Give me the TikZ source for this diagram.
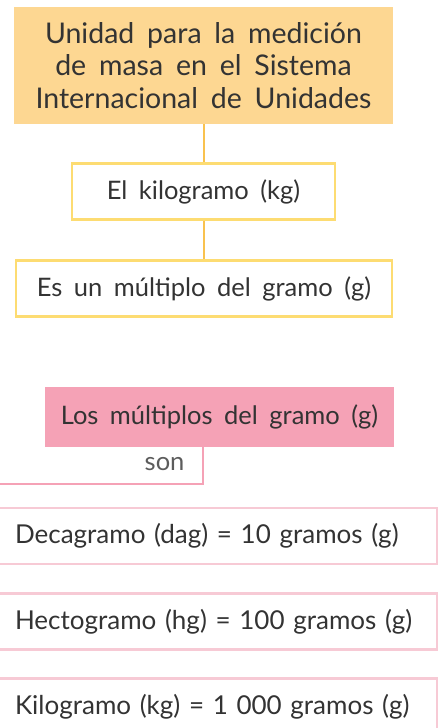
\documentclass[tikz,border=0pt]{standalone}
\usepackage{fontspec}
\setmainfont{Lato}
\usetikzlibrary{positioning}
\definecolor{titlefill}{HTML}{FDD792}
\definecolor{yellowline}{HTML}{FDDC72}
\definecolor{orangeline}{HTML}{F9C24F}
\definecolor{pinkfill}{HTML}{F5A2B6}
\definecolor{pinkline}{HTML}{F7CAD5}
\definecolor{inkgray}{HTML}{333333}
\newcommand{\wide}{\spaceskip=0.45em plus 0.1em minus 0.05em\relax}
\newcommand{\wider}{\spaceskip=0.48em plus 0.05em minus 0.1em\relax}

\begin{document}
\begin{tikzpicture}[x=1pt, y=-1pt,
  every node/.style={text=inkgray, font=\fontsize{25.5}{32}\selectfont\wide},
  titlebox/.style={fill=titlefill, minimum width=379pt, minimum height=117pt, align=center, font=\fontsize{28.5}{32.5}\selectfont\wide},
  yellowbox/.style={draw=yellowline, line width=2.5pt, minimum height=56pt},
  pinkbox/.style={fill=pinkfill, minimum width=349pt, minimum height=60pt},
  rowbox/.style={draw=pinkline, line width=2.5pt, minimum height=56pt, text width=405pt, inner xsep=17pt, align=left, font=\fontsize{26}{32}\selectfont\wider},
  link/.style={draw=orangeline, line width=2pt}]
  \useasboundingbox (0,0) rectangle (442,728);

  % Title
  \node[titlebox] (unidad) at (203.5,65.5) {Unidad para la medición\\de masa en el Sistema\\Internacional de Unidades};

  % Kilogram boxes
  \node[yellowbox, minimum width=263pt] (kilo) at (203.5,191.5) {El kilogramo (kg)};
  \node[yellowbox, minimum width=376pt] (multiplo) at (204,288.5) {Es un múltiplo del gramo (g)};
  \draw[link] (unidad.south -| kilo.north) -- (kilo.north);
  \draw[link] (kilo.south) -- (kilo.south |- multiplo.north);

  % Multiples
  \node[pinkbox] (multiplos) at (219.5,417) {Los múltiplos del gramo (g)};
  \coordinate (sonend) at (0,484);
  \draw[draw=pinkfill, line width=2pt] (multiplos.south -| 203,0) |- (sonend);
  \node[anchor=east, text=inkgray!80] (son) at (188,464) {son};

  % Rows
  \node[rowbox] (deca) at (217.5,536) {Decagramo (dag) = 10 gramos (g)};
  \node[rowbox] (hecto) at (217.5,621.5) {Hectogramo (hg) = 100 gramos (g)};
  \node[rowbox] (kilogramo) at (217.5,706.5) {Kilogramo (kg) = 1 000 gramos (g)};
\end{tikzpicture}
\end{document}
